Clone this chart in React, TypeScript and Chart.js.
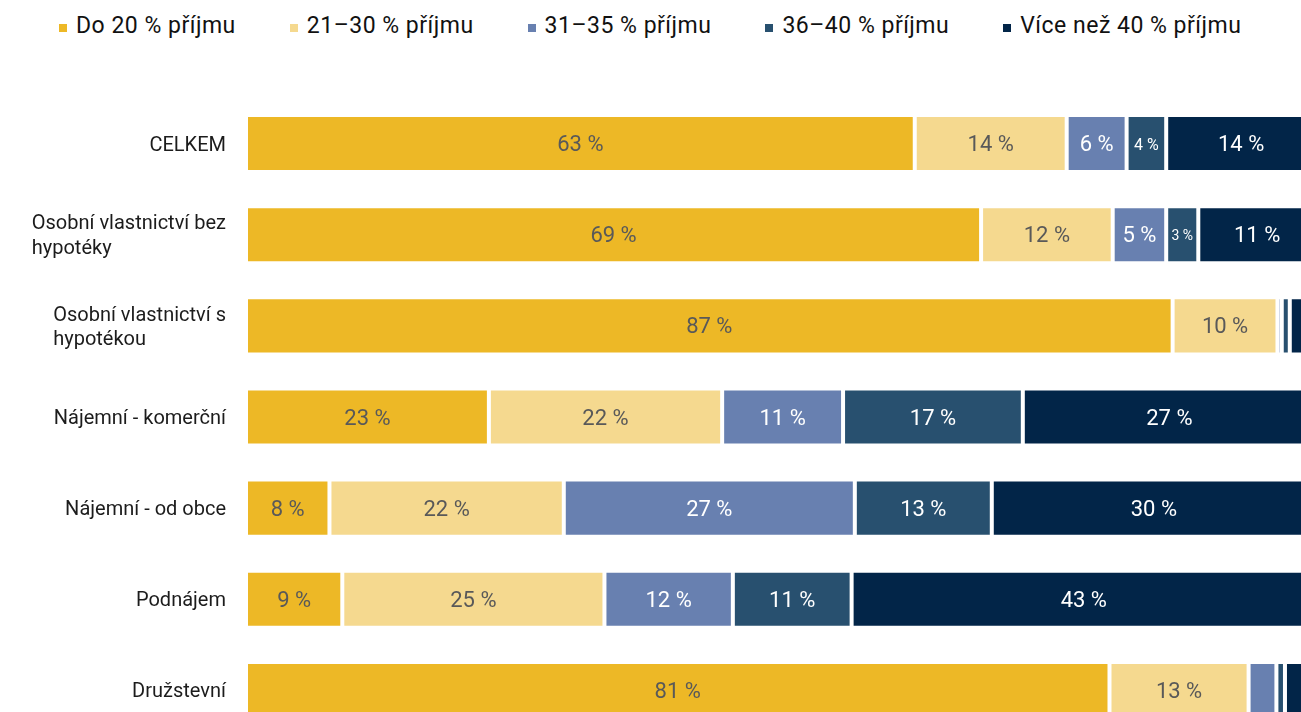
import React, { useEffect, useRef } from "react";
import { Chart, registerables } from "chart.js";

Chart.register(...registerables);

// ---------- data ----------
const categories: (string | string[])[] = [
  "CELKEM",
  ["Osobní vlastnictví bez", "hypotéky"],
  ["Osobní vlastnictví s", "hypotékou"],
  "Nájemní - komerční",
  "Nájemní - od obce",
  "Podnájem",
  "Družstevní",
];

const seriesNames = [
  "Do 20 % příjmu",
  "21–30 % příjmu",
  "31–35 % příjmu",
  "36–40 % příjmu",
  "Více než 40 % příjmu",
];

const upTo20 = [62.5, 68.7, 86.6, 22.7, 7.8, 9.0, 80.7];
const from21to30 = [14.2, 12.3, 9.8, 21.8, 21.9, 24.5, 13.0];
const from31to35 = [5.6, 5.0, 0.4, 11.3, 27.2, 12.0, 2.6];
const from36to40 = [3.7, 3.0, 0.75, 16.8, 12.8, 11.1, 0.8];
const over40 = [14.0, 11.0, 2.45, 27.4, 30.3, 43.4, 2.9];

const seriesValues = [upTo20, from21to30, from31to35, from36to40, over40];

// ---------- styles ----------
const seriesColors = ["#EDB826", "#F5D98F", "#6880B0", "#28506F", "#022548"];
const labelColors = ["#595959", "#595959", "#FFFFFF", "#FFFFFF", "#FFFFFF"];
const FONT = "Roboto, 'Fira Sans', sans-serif";

const CANVAS_W = 1330;
const CANVAS_H = 750;
const AREA_LEFT = 246;
const AREA_RIGHT = 1316;
const AREA_TOP = 98;
const AREA_BOTTOM = 736;

const valueLabelPlugin = {
  id: "valueLabels",
  afterDatasetsDraw(chart: any) {
    const ctx = chart.ctx as CanvasRenderingContext2D;
    ctx.save();
    ctx.textAlign = "center";
    ctx.textBaseline = "middle";
    chart.data.datasets.forEach((ds: any, di: number) => {
      const meta = chart.getDatasetMeta(di);
      meta.data.forEach((el: any, i: number) => {
        const v = ds.data[i] as number;
        if (v < 3) return;
        const { x, base, y } = el.getProps(["x", "base", "y"], true);
        const w = Math.abs(x - base) - 4;
        const size = v < 4.5 ? Math.round(6 + w * 0.28) : 22;
        ctx.font = `${size}px ${FONT}`;
        ctx.fillStyle = labelColors[di];
        ctx.fillText(`${Math.round(v)} %`, (x + base) / 2, y + 2);
      });
    });
    ctx.restore();
  },
};

const categoryLabelPlugin = {
  id: "categoryLabels",
  afterDraw(chart: any) {
    const ctx = chart.ctx as CanvasRenderingContext2D;
    const yScale = chart.scales.y;
    const area = chart.chartArea;
    ctx.save();
    ctx.font = `20px ${FONT}`;
    ctx.textAlign = "left";
    ctx.textBaseline = "middle";
    ctx.fillStyle = "#1c1c1c";
    const lh = 24.5;
    categories.forEach((c, i) => {
      const lines = Array.isArray(c) ? c : [c];
      const yc = yScale.getPixelForValue(i);
      const maxW = Math.max(...lines.map((l) => ctx.measureText(l).width));
      const x0 = area.left - 20 - maxW;
      lines.forEach((l, j) => {
        ctx.fillText(l, x0, yc + (j - (lines.length - 1) / 2) * lh + 2);
      });
    });
    ctx.restore();
  },
};

export default function App() {
  const canvasRef = useRef<HTMLCanvasElement | null>(null);

  useEffect(() => {
    if (!canvasRef.current) return;
    const chart = new Chart(canvasRef.current, {
      type: "bar",
      data: {
        labels: categories.map((c) => (Array.isArray(c) ? c.join(" ") : c)),
        datasets: seriesNames.map((name, i) => ({
          label: name,
          data: seriesValues[i],
          backgroundColor: seriesColors[i],
          borderColor: "#FFFFFF",
          borderWidth: 2,
          borderSkipped: false,
          barPercentage: 0.626,
          categoryPercentage: 1,
        })),
      },
      options: {
        indexAxis: "y",
        responsive: false,
        maintainAspectRatio: false,
        animation: false,
        devicePixelRatio: 1,
        layout: {
          padding: {
            left: AREA_LEFT,
            right: CANVAS_W - AREA_RIGHT,
            top: AREA_TOP,
            bottom: CANVAS_H - AREA_BOTTOM,
          },
        },
        scales: {
          x: { stacked: true, min: 0, max: 100, display: false },
          y: { stacked: true, display: false },
        },
        plugins: {
          legend: { display: false },
          tooltip: { enabled: false },
        },
      },
      plugins: [valueLabelPlugin, categoryLabelPlugin],
    } as any);
    return () => chart.destroy();
  }, []);

  return (
    <div
      style={{
        position: "fixed",
        left: 0,
        top: 0,
        width: 1301,
        height: 712,
        overflow: "hidden",
        background: "#FFFFFF",
      }}
    >
      <div
        style={{
          position: "absolute",
          left: 59,
          top: 12,
          display: "flex",
          fontFamily: FONT,
          fontSize: 23,
          lineHeight: "27px",
          color: "#111111",
          letterSpacing: "0.5px",
          whiteSpace: "nowrap",
        }}
      >
        {seriesNames.map((n, i) => (
          <div
            key={n}
            style={{ display: "flex", alignItems: "flex-start", marginLeft: i ? 54 : 0 }}
          >
            <span
              style={{
                display: "block",
                width: 8,
                height: 8,
                background: seriesColors[i],
                marginTop: 12,
                marginRight: 9,
                flex: "none",
              }}
            />
            <span>{n}</span>
          </div>
        ))}
      </div>
      <canvas
        ref={canvasRef}
        width={CANVAS_W}
        height={CANVAS_H}
        style={{ position: "absolute", left: 0, top: 0, width: CANVAS_W, height: CANVAS_H }}
      />
    </div>
  );
}
